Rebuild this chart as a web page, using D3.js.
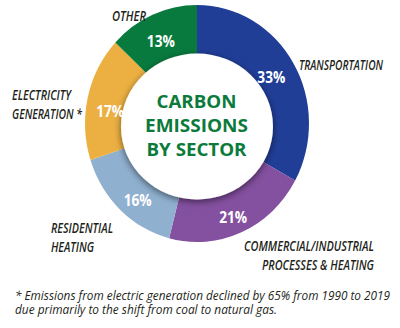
<!DOCTYPE html>
<html>
<head>
<meta charset="utf-8">
<script src="https://cdn.jsdelivr.net/npm/d3@7"></script>
<style>
  html, body { margin: 0; padding: 0; background: #fff; }
  svg { display: block; }
</style>
</head>
<body>
<svg id="chart" width="400" height="328"></svg>
<script>
// Sector shares of carbon emissions (percent), clockwise from 12 o'clock
const sectors = ["Transportation", "Commercial/Industrial", "Residential", "Electricity", "Other"];
const shares = [33, 21, 16, 17, 13];
const colors = ["#213e97", "#8450a0", "#8fb0cf", "#ecb042", "#087a3d"];

// Sector captions (one entry per line)
const captionLines = [
  ["TRANSPORTATION"],
  ["COMMERCIAL/INDUSTRIAL", "PROCESSES & HEATING"],
  ["RESIDENTIAL", "HEATING"],
  ["ELECTRICITY", "GENERATION *"],
  ["OTHER"]
];
const titleLines = ["CARBON", "EMISSIONS", "BY SECTOR"];
const footnoteLines = [
  "* Emissions from electric generation declined by 65% from 1990 to 2019",
  "due primarily to the shift from coal to natural gas."
];

const svg = d3.select("#chart");
const cx = 197, cy = 123.5;
const outerR = 112, innerR = 60, yStretch = 1.058;

const defs = svg.append("defs");
const shadow = defs.append("filter").attr("id", "soft").attr("x", "-30%").attr("y", "-30%").attr("width", "160%").attr("height", "160%");
shadow.append("feDropShadow").attr("dx", 0).attr("dy", 2).attr("stdDeviation", 3.5)
  .attr("flood-color", "#000").attr("flood-opacity", 0.55);

const pie = d3.pie().sort(null).value(d => d);
const arcs = pie(shares);
const arc = d3.arc().innerRadius(innerR).outerRadius(outerR);

const ring = svg.append("g").attr("transform", `translate(${cx},${cy}) scale(1,${yStretch})`);
ring.selectAll("path").data(arcs).join("path")
  .attr("d", arc)
  .attr("fill", (d, i) => colors[i]);

// Raised white centre disc
svg.append("ellipse")
  .attr("cx", cx).attr("cy", cy + 3)
  .attr("rx", 76).attr("ry", 73)
  .attr("fill", "#fff")
  .attr("filter", "url(#soft)");

// Percent labels on the ring
const labelArc = d3.arc().innerRadius(91).outerRadius(91);
const pctNudge = [[-4, 3], [0, 5], [3, 6], [2, 9], [0, 6]];
svg.selectAll("text.pct").data(arcs).join("text")
  .attr("class", "pct")
  .attr("x", (d, i) => cx + labelArc.centroid(d)[0] + pctNudge[i][0])
  .attr("y", (d, i) => cy + labelArc.centroid(d)[1] * yStretch + pctNudge[i][1] + 6)
  .attr("text-anchor", "middle")
  .attr("font-family", "'Open Sans', sans-serif")
  .attr("font-weight", 700)
  .attr("font-size", 16.5)
  .attr("fill", "#fff")
  .attr("textLength", 28)
  .attr("lengthAdjust", "spacingAndGlyphs")
  .text(d => d.data + "%");

// Centre title
const titleWidths = [80, 103, 100];
svg.append("g").selectAll("text").data(titleLines).join("text")
  .attr("x", cx - 0.5)
  .attr("y", (d, i) => 107.5 + i * 24)
  .attr("text-anchor", "middle")
  .attr("font-family", "'Open Sans', sans-serif")
  .attr("font-weight", 700)
  .attr("font-size", 18.5)
  .attr("fill", "#0b7a3b")
  .attr("textLength", (d, i) => titleWidths[i])
  .attr("lengthAdjust", "spacingAndGlyphs")
  .text(d => d);

// Sector captions: anchor x, first baseline, alignment, width per line
const captionLayout = [
  { x: 299, y: 70, anchor: "start", w: [84] },
  { x: 374, y: 251, anchor: "end", w: [130, 112] },
  { x: 51, y: 233, anchor: "start", w: [62, 43] },
  { x: 12, y: 100, anchor: "start", w: [59, 70] },
  { x: 112, y: 21, anchor: "start", w: [34] }
];
captionLines.forEach((lines, i) => {
  const L = captionLayout[i];
  lines.forEach((line, j) => {
    svg.append("text")
      .attr("x", L.x)
      .attr("y", L.y + j * 18.5)
      .attr("text-anchor", L.anchor)
      .attr("font-family", "'Open Sans', sans-serif")
      .attr("font-style", "italic")
      .attr("font-weight", 600)
      .attr("font-size", 15)
      .attr("fill", "#231f20")
      .attr("textLength", L.w[j])
      .attr("lengthAdjust", "spacingAndGlyphs")
      .text(line);
  });
});

// Footnote
const footWidths = [375, 262];
svg.append("g").selectAll("text").data(footnoteLines).join("text")
  .attr("x", 15)
  .attr("y", (d, i) => 300 + i * 14)
  .attr("font-family", "'Open Sans', sans-serif")
  .attr("font-style", "italic")
  .attr("font-size", 12)
  .attr("fill", "#231f20")
  .attr("textLength", (d, i) => footWidths[i])
  .attr("lengthAdjust", "spacingAndGlyphs")
  .text(d => d);
</script>
</body>
</html>
